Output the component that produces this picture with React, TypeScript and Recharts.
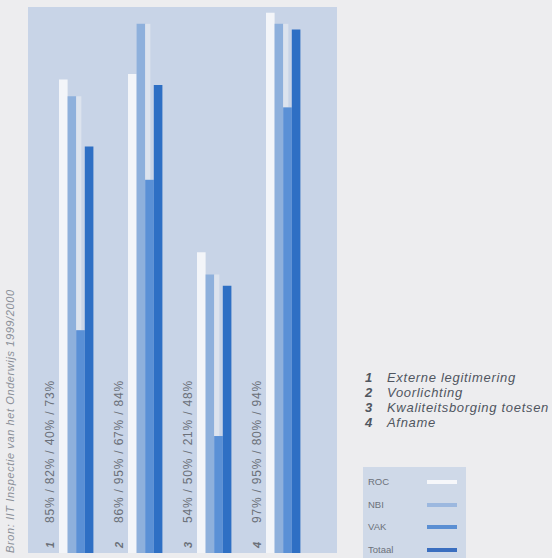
import React from 'react';
import { BarChart, Bar, XAxis, YAxis, Legend } from 'recharts';

// Categories and results per sector (percentages)
const categoryNrs = ['1', '2', '3', '4'];
const categoryNames = ['Externe legitimering', 'Voorlichting', 'Kwaliteitsborging toetsen', 'Afname'];
const rocValues = [85, 86, 54, 97];
const nbiValues = [82, 95, 50, 95];
const vakValues = [40, 67, 21, 80];
const totaalValues = [73, 84, 48, 94];
const seriesNames = ['ROC', 'NBI', 'VAK', 'Totaal'];
const sourceNote = 'Bron: IIT Inspectie van het Onderwijs 1999/2000';

const seriesColors: Record<string, string> = {
  ROC: '#f3f5f9',
  NBI: '#8eb0dc',
  VAK: '#5a90d6',
  Totaal: '#2e6fc4',
};

const legendColors: Record<string, string> = {
  ROC: '#f6f7fa',
  NBI: '#9cb8df',
  VAK: '#5b8fd3',
  Totaal: '#3a6ebf',
};

const data = categoryNrs.map((nr, i) => ({
  nr,
  ROC: rocValues[i],
  NBI: nbiValues[i],
  VAK: vakValues[i],
  Totaal: totaalValues[i],
}));

const FONT = '"Liberation Sans", Arial, sans-serif';

// VAK bar with the pale strip that runs up to the NBI height beside it
const VakShape = (props: any) => {
  const { x, y, width, height, payload, fill } = props;
  const bottom = y + height;
  const perUnit = payload.VAK ? height / payload.VAK : 0;
  const nbiTop = bottom - payload.NBI * perUnit;
  return (
    <g>
      {nbiTop < y && (
        <rect x={x} y={nbiTop} width={width * 0.6} height={y - nbiTop} fill="#dce3ee" />
      )}
      <rect x={x} y={y} width={width} height={height} fill={fill} />
    </g>
  );
};

// Rotated group label: number plus the four percentages
const GroupTick = (props: any) => {
  const { x, payload } = props;
  const d = data.find((row) => row.nr === String(payload?.value));
  if (!d) return null;
  const bx = x - 23;
  const text = `${d.ROC}% / ${d.NBI}% / ${d.VAK}% / ${d.Totaal}%`;
  return (
    <g fill="#6b7079" fontFamily={FONT}>
      <text transform={`translate(${bx},548) rotate(-90)`} fontSize={11} fontStyle="italic" fontWeight="bold">
        {d.nr}
      </text>
      <text transform={`translate(${bx},523) rotate(-90)`} fontSize={12} letterSpacing={0.8}>
        {text}
      </text>
    </g>
  );
};

const LegendBox = () => (
  <div
    style={{
      background: '#cfd9e8',
      width: 103,
      height: 92,
      position: 'relative',
      fontFamily: FONT,
    }}
  >
    {seriesNames.map((name, i) => (
      <div key={name} style={{ position: 'absolute', left: 5, top: 9 + i * 22.5, height: 12, width: 98 }}>
        <span style={{ fontSize: 9.5, color: '#6c717a', lineHeight: '12px', position: 'absolute', left: 0, top: 0 }}>
          {name}
        </span>
        <span
          style={{
            position: 'absolute',
            left: 59,
            top: 4,
            width: 30,
            height: 4,
            background: legendColors[name],
          }}
        />
      </div>
    ))}
  </div>
);

export default function App() {
  return (
    <div
      style={{
        position: 'absolute',
        left: 0,
        top: 0,
        width: 552,
        height: 558,
        background: '#ededef',
        overflow: 'hidden',
      }}
    >
      <div
        style={{
          position: 'absolute',
          left: 28,
          top: 7,
          width: 309,
          height: 546,
          background: '#c8d4e7',
        }}
      />
      <svg width={552} height={558} style={{ position: 'absolute', left: 0, top: 0 }}>
        <text
          transform="translate(14,553) rotate(-90)"
          fontFamily={FONT}
          fontSize={11}
          letterSpacing={0.6}
          fontStyle="italic"
          fill="#8a8f98"
        >
          {sourceNote}
        </text>
        {categoryNames.map((name, i) => (
          <g key={name} fontFamily={FONT} fontSize={13} letterSpacing={0.7} fontStyle="italic" fill="#50565f">
            <text x={365} y={382 + i * 15} fontWeight="bold">
              {categoryNrs[i]}
            </text>
            <text x={387} y={382 + i * 15}>
              {name}
            </text>
          </g>
        ))}
      </svg>
      <div style={{ position: 'absolute', left: 0, top: 0 }}>
        <BarChart
          width={552}
          height={558}
          data={data}
          margin={{ top: -4, right: 234, bottom: 0, left: 42 }}
          barGap={0}
          barSize={8.6}
        >
          <XAxis
            dataKey="nr"
            height={5}
            axisLine={false}
            tickLine={false}
            interval={0}
            tick={<GroupTick />}
          />
          <YAxis hide domain={[0, 100]} />
          <Legend
            layout="vertical"
            align="center"
            verticalAlign="middle"
            content={<LegendBox />}
            wrapperStyle={{ left: 363, top: 467, width: 103, height: 92 }}
          />
          {seriesNames.map((name) => (
            <Bar
              key={name}
              dataKey={name}
              name={name}
              fill={seriesColors[name]}
              isAnimationActive={false}
              shape={name === 'VAK' ? (p: any) => <VakShape {...p} /> : undefined}
            />
          ))}
        </BarChart>
      </div>
    </div>
  );
}
